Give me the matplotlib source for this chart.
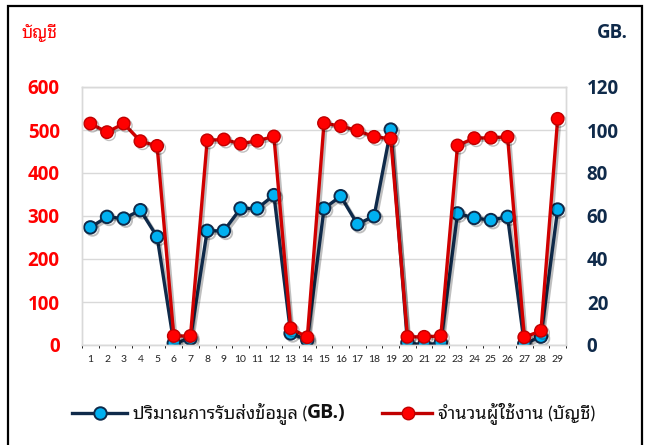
import matplotlib
matplotlib.use("Agg")
import matplotlib.pyplot as plt
import matplotlib.patheffects as pe
from matplotlib.patches import Rectangle

days = list(range(1, 30))
users = [515, 495, 515, 474, 463, 21, 21, 476, 478, 468, 475, 485, 39, 18, 516,
         509, 499, 484, 480, 19, 19, 21, 464, 481, 482, 484, 18, 33, 526]
traffic_gb = [54.7, 59.6, 58.8, 62.7, 50.3, 0.8, 3.0, 53.1, 53.1, 63.5, 63.5, 69.7, 5.4, 2.3, 63.5,
              69.2, 56.2, 59.9, 100.2, 1.0, 0.0, 1.0, 61.2, 59.1, 58.1, 59.6, 0.5, 3.9, 63.0]
left_ticks = [0, 100, 200, 300, 400, 500, 600]
right_ticks = [0, 20, 40, 60, 80, 100, 120]

label_gb = "ปริมาณการรับส่งข้อมูล ("
label_users = "จำนวนผู้ใช้งาน (บัญชี)"

thai = ["Lato", "Noto Sans Thai Looped"]
boldfont = "Open Sans"
red = "#FF0000"
dark_red = "#D00000"
navy = "#0F2A4A"
cyan = "#00B0F0"
grid_col = "#D9D9D9"

fig = plt.figure(figsize=(6.47, 4.45), dpi=100)
ax = fig.add_axes([82 / 647, 100 / 445, 484 / 647, 258 / 445])
ax2 = ax.twinx()

shadow = [pe.SimpleLineShadow(offset=(1.5, -1.5), alpha=0.25), pe.Normal()]

ax2.plot(days, traffic_gb, color=navy, lw=2.4, marker="o", ms=9, mfc=cyan, mec=navy, mew=1.4,
         path_effects=shadow)
ax.plot(days, users, color=dark_red, lw=2.4, marker="o", ms=9, mfc=red, mec="#C00000", mew=1.0,
        path_effects=shadow)

ax.set_zorder(ax2.get_zorder() + 1)
ax.patch.set_visible(False)

ax.set_xlim(0.5, 29.5)
ax.set_ylim(0, 600)
ax2.set_ylim(0, 120)
ax.set_xticks(days)
ax.set_yticks(left_ticks)
ax2.set_yticks(right_ticks)

# grid on the lower (twin) axes so it stays under both lines
ax2.set_xticks([d + 0.5 for d in range(0, 30)], minor=True)
ax2.grid(True, which="minor", axis="x", color=grid_col, lw=1)
ax2.grid(True, which="major", axis="y", color=grid_col, lw=1)
ax2.tick_params(axis="x", which="both", length=0)

ax.tick_params(axis="x", length=0, pad=7, labelsize=7.5, labelcolor="#222222")
ax.tick_params(axis="y", length=0, pad=16, labelsize=13.5, labelcolor=red)
ax2.tick_params(axis="y", length=0, pad=15, labelsize=13.5, labelcolor=navy)
ax.set_yticklabels([str(v) for v in left_ticks], fontfamily=boldfont, fontweight="bold")
ax2.set_yticklabels([str(v) for v in right_ticks], fontfamily=boldfont, fontweight="bold")
ax.set_xticklabels([str(d) for d in days], fontfamily="Lato")

for a in (ax, ax2):
    for s in a.spines.values():
        s.set_color(grid_col)
        s.set_linewidth(1)

fig.text(22 / 647, 1 - 33 / 445, "บัญชี", color=red, fontsize=12.5, family=thai, va="center")
fig.text(628 / 647, 1 - 33 / 445, "GB.", color=navy, fontsize=13.5, family=boldfont,
         fontweight="bold", va="center", ha="right")

# legend drawn by hand
y_leg = 1 - 413 / 445
fig.add_artist(plt.Line2D([72 / 647, 127 / 647], [y_leg, y_leg], color=navy, lw=2.4))
fig.add_artist(plt.Line2D([100 / 647], [y_leg], marker="o", ms=9, mfc=cyan, mec=navy, mew=1.4))
t1 = fig.text(133 / 647, y_leg, label_gb, fontsize=13, family=thai, va="center", color="#111111")
ax.annotate("GB.)", xy=(1, 0.5), xycoords=t1, va="center", ha="left", fontsize=14,
            family=boldfont, fontweight="bold", color="#111111", annotation_clip=False)
fig.add_artist(plt.Line2D([382 / 647, 432 / 647], [y_leg, y_leg], color="#C00000", lw=2.4))
fig.add_artist(plt.Line2D([408 / 647], [y_leg], marker="o", ms=9, mfc=red, mec="#C00000", mew=1.0))
fig.text(438 / 647, y_leg, label_users, fontsize=13, family=thai, va="center", color="#111111")

fig.add_artist(Rectangle((8 / 647, -0.02), 634 / 647, 1.02 - 6 / 445, transform=fig.transFigure,
                         fill=False, ec="black", lw=1.6))

fig.savefig("out.png", dpi=100)
